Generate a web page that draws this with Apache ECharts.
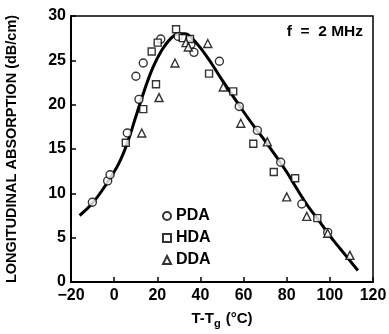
<!DOCTYPE html>
<html>
<head>
<meta charset="utf-8">
<script src="https://cdn.jsdelivr.net/npm/echarts@6/dist/echarts.min.js"></script>
<style>html,body{margin:0;padding:0;background:#fff}#c{width:389px;height:334px}</style>
</head>
<body>
<div id="c"></div>
<script>
// Data
var xTicks = [-20, 0, 20, 40, 60, 80, 100, 120];
var yTicks = [0, 5, 10, 15, 20, 25, 30];
var pda = [[-10.1, 9.0], [-3.0, 11.4], [-1.9, 12.1], [6.1, 16.8], [10.1, 23.2], [11.5, 20.6], [13.5, 24.7], [21.6, 27.4], [29.7, 27.7], [35.6, 26.8], [37.0, 25.9], [48.8, 24.9], [58.0, 19.8], [66.4, 17.1], [77.2, 13.5], [87.0, 8.8], [99.0, 5.6]];
var hda = [[5.4, 15.7], [13.5, 19.5], [17.4, 26.0], [19.4, 22.3], [20.2, 27.0], [28.7, 28.5], [31.8, 27.5], [35.2, 27.4], [44.0, 23.5], [55.2, 21.5], [64.5, 15.6], [74.0, 12.4], [83.9, 11.7], [94.2, 7.2]];
var dda = [[12.8, 16.8], [20.8, 20.8], [28.2, 24.7], [33.3, 27.0], [34.4, 26.5], [43.4, 26.9], [50.6, 22.0], [58.7, 17.9], [71.0, 15.8], [80.0, 9.6], [89.3, 7.4], [99.0, 5.5], [109.3, 3.0]];
var fitX = [-16, -10, -4, 2, 6, 10, 14, 18, 22, 26, 30, 33, 36, 40, 45, 50, 55, 60, 65, 70, 75, 80, 85, 90, 95, 100, 105, 113];
var fitY = [7.5, 8.9, 10.9, 13.3, 15.6, 18.6, 21.6, 24.2, 26.1, 27.4, 28.0, 28.0, 27.5, 26.4, 24.7, 22.8, 21.0, 19.2, 17.5, 15.9, 14.2, 12.4, 10.4, 8.5, 6.9, 5.2, 3.7, 1.3];
var freqLabel = 'f  =  2 MHz';

var FONT = '"Liberation Sans", Arial, sans-serif';
var chart = echarts.init(document.getElementById('c'), null, {renderer: 'canvas'});
var mk = {color: '#fff', borderColor: '#000', borderWidth: 1.4};
var option = {
  animation: false,
  backgroundColor: '#fff',
  grid: {left: 71, right: 16, top: 16, bottom: 52, show: true, borderColor: '#000', borderWidth: 1.5,
         outerBoundsMode: 'none', containLabel: false},
  xAxis: {
    type: 'value', min: -20, max: 120, interval: 20,
    name: '{a|T-T}{b|g}{a| (°C)}', nameLocation: 'middle', nameGap: 27,
    nameTextStyle: {rich: {
      a: {fontFamily: FONT, fontWeight: 'bold', fontSize: 15, color: '#000'},
      b: {fontFamily: FONT, fontWeight: 'bold', fontSize: 11, color: '#000', padding: [9, 1, 0, 0]}
    }},
    axisLine: {onZero: false, lineStyle: {color: '#000', width: 2}},
    axisTick: {inside: true, length: 5, lineStyle: {color: '#000', width: 1.5}},
    splitLine: {show: false},
    axisLabel: {fontFamily: FONT, fontWeight: 'bold', fontSize: 16, color: '#000', margin: 6,
      formatter: function (v) { return xTicks.indexOf(v) >= 0 ? String(v).replace('-', '\u2212') : ''; }}
  },
  yAxis: {
    type: 'value', min: 0, max: 30, interval: 5,
    name: 'LONGITUDINAL ABSORPTION (dB/cm)', nameLocation: 'middle', nameGap: 52, nameRotate: 90,
    nameTextStyle: {fontFamily: FONT, fontWeight: 'bold', fontSize: 14.5, color: '#000'},
    axisLine: {onZero: false, lineStyle: {color: '#000', width: 2}},
    axisTick: {inside: true, length: 5, lineStyle: {color: '#000', width: 1.5}},
    splitLine: {show: false},
    axisLabel: {fontFamily: FONT, fontWeight: 'bold', fontSize: 16, color: '#000', margin: 5,
      formatter: function (v) { return yTicks.indexOf(v) >= 0 ? String(v) : ''; }}
  },
  legend: {
    orient: 'vertical', left: 157, top: 203, itemGap: 6, itemWidth: 8, itemHeight: 8,
    data: ['PDA', 'HDA', 'DDA'],
    textStyle: {fontFamily: FONT, fontWeight: 'bold', fontSize: 16, color: '#000', padding: [0, 0, 0, 0]}
  },
  graphic: [{
    type: 'text', right: 26, top: 24,
    style: {text: freqLabel, fontFamily: FONT, fontWeight: 'bold', fontSize: 15.5, fill: '#000'}
  }],
  series: [
    {name: 'fit', type: 'line', data: fitX.map(function (x, i) { return [x, fitY[i]]; }),
     smooth: 0.4, symbol: 'none', lineStyle: {color: '#000', width: 3}, z: 1},
    {name: 'PDA', type: 'scatter', data: pda, symbol: 'circle', symbolSize: 8, itemStyle: mk, z: 3},
    {name: 'HDA', type: 'scatter', data: hda, symbol: 'rect', symbolSize: 7, itemStyle: mk, z: 3},
    {name: 'DDA', type: 'scatter', data: dda, symbol: 'triangle', symbolSize: 8, itemStyle: mk, z: 3}
  ]
};
chart.setOption(option);
</script>
</body>
</html>
